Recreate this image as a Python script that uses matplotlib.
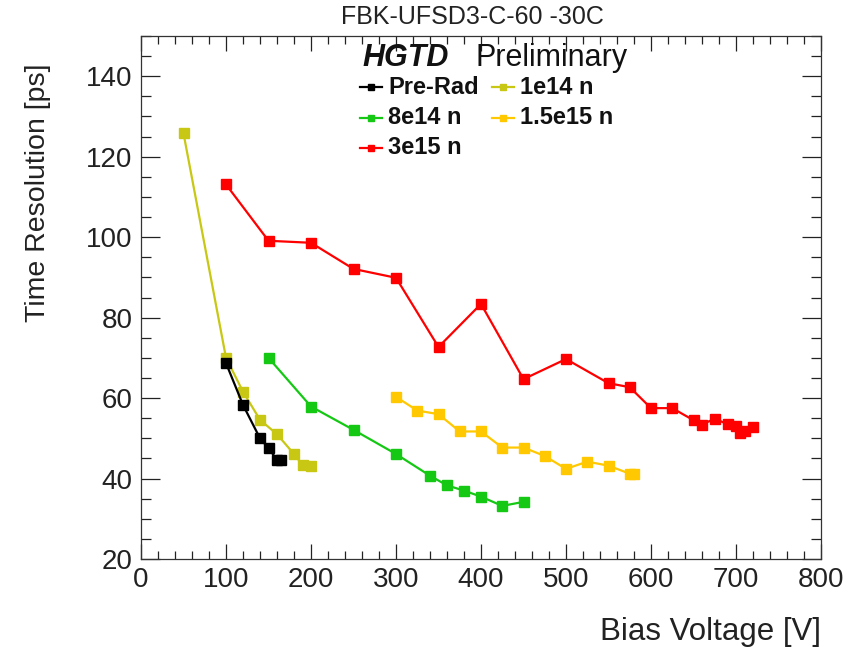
import matplotlib
matplotlib.use("Agg")
import matplotlib.pyplot as plt
from matplotlib.ticker import MultipleLocator
from matplotlib.lines import Line2D

plt.rcParams['font.family'] = ['Liberation Sans', 'DejaVu Sans']

# ---- data ----
prerad_v = [100, 120, 140, 150, 160, 165]
prerad_t = [68.7, 58.3, 50.0, 47.6, 44.6, 44.6]

n1e14_v = [50, 100, 120, 140, 160, 180, 190, 200]
n1e14_t = [125.8, 70.0, 61.6, 54.6, 51.0, 46.1, 43.4, 43.0]

n8e14_v = [150, 200, 250, 300, 340, 360, 380, 400, 425, 450]
n8e14_t = [70.0, 57.9, 52.1, 46.1, 40.7, 38.3, 37.0, 35.5, 33.2, 34.2]

n15e15_v = [300, 325, 350, 375, 400, 425, 450, 475, 500, 525, 550, 575, 580]
n15e15_t = [60.3, 56.9, 56.0, 51.7, 51.7, 47.7, 47.7, 45.6, 42.4, 44.2, 43.2, 41.2, 41.2]

n3e15_v = [100, 150, 200, 250, 300, 350, 400, 450, 500, 550, 575, 600, 625,
           650, 660, 675, 690, 700, 705, 710, 720]
n3e15_t = [113.1, 99.1, 98.6, 92.1, 89.9, 72.7, 83.4, 64.7, 69.7, 63.7, 62.7,
           57.5, 57.5, 54.5, 53.4, 54.9, 53.5, 53.1, 51.3, 51.9, 52.7]

labels = ["Pre-Rad", "1e14 n", "8e14 n", "1.5e15 n", "3e15 n"]
colors = ["#000000", "#c8c814", "#14c814", "#ffc800", "#ff0000"]

series = [(prerad_v, prerad_t), (n1e14_v, n1e14_t), (n8e14_v, n8e14_t),
          (n15e15_v, n15e15_t), (n3e15_v, n3e15_t)]

fig = plt.figure(figsize=(8.48, 6.5), dpi=100)
ax = fig.add_axes([141/848, 1-559/650, (821-141)/848, (559-36)/650])

order = [1, 0, 2, 3, 4]
for i in order:
    v, t = series[i]
    ax.plot(v, t, color=colors[i], lw=1.6, marker='s', ms=6.5, mec=colors[i],
            mfc=colors[i], zorder=3 if i == 0 else 2)

ax.set_xlim(0, 800)
ax.set_ylim(20, 150)
ax.xaxis.set_major_locator(MultipleLocator(100))
ax.xaxis.set_minor_locator(MultipleLocator(20))
ax.yaxis.set_major_locator(MultipleLocator(20))
ax.yaxis.set_minor_locator(MultipleLocator(5))
ax.tick_params(axis='both', which='both', direction='in', top=True, right=True,
               labelsize=20, colors='#222222', width=0.9)
ax.tick_params(axis='x', which='major', length=11, pad=6)
ax.tick_params(axis='x', which='minor', length=5.5)
ax.tick_params(axis='y', which='major', length=14, pad=6)
ax.tick_params(axis='y', which='minor', length=7)
ax.set_yticks([20, 40, 60, 80, 100, 120, 140])
for s in ax.spines.values():
    s.set_linewidth(0.9)
    s.set_color('#333333')

fig.text(472/848, 1-17/650, "FBK-UFSD3-C-60 -30C", ha='center', va='center',
         fontsize=18, color='#222222')
fig.text(821/848, 1-632/650, "Bias Voltage [V]", ha='right', va='center',
         fontsize=22.5, color='#222222')
fig.text(38/848, 1-64/650, "Time Resolution [ps]", ha='center', va='top',
         rotation=90, fontsize=20.5, color='#222222')

# HGTD label
fig.text(362/848, 1-58/650, "HGTD", fontsize=22,
         fontweight='bold', fontstyle='italic', ha='left', va='center',
         color='#111111')
fig.text(475/848, 1-58/650, "Preliminary", fontsize=22, ha='left', va='center',
         color='#111111')

# legend entries
leg_pos = [(360, 87), (492, 87), (360, 118), (492, 118), (360, 148)]
for i, (px, py) in enumerate(leg_pos):
    y = 1 - py/650
    fig.add_artist(Line2D([px/848, (px+22)/848], [y, y], color=colors[i], lw=1.6,
                          transform=fig.transFigure))
    fig.add_artist(Line2D([(px+11)/848], [y], color=colors[i], marker='s', ms=4.5,
                          transform=fig.transFigure))
    fig.text((px+28)/848, y, labels[i], fontsize=17, fontweight='bold',
             ha='left', va='center', color='#111111')

fig.savefig("out.png", dpi=100)
